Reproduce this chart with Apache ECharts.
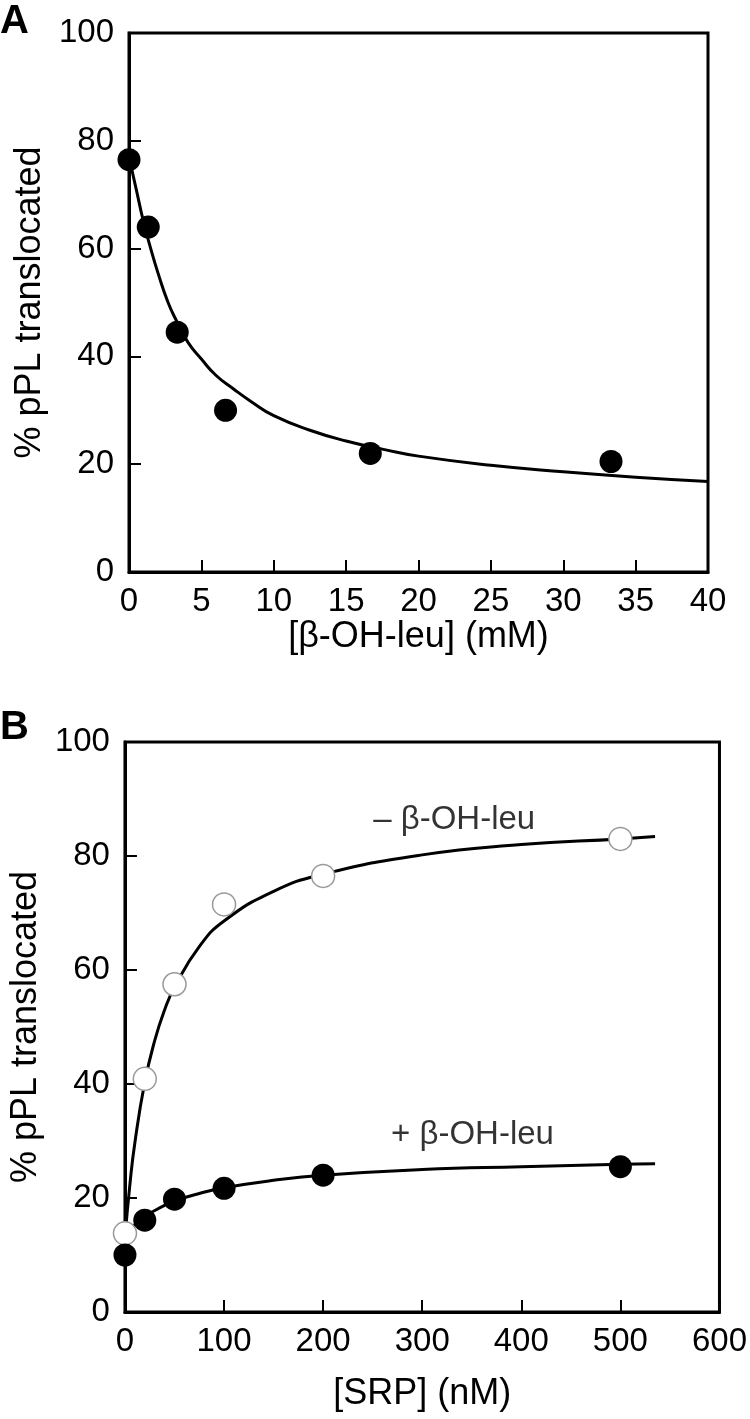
<!DOCTYPE html>
<html>
<head>
<meta charset="utf-8">
<script src="https://cdn.jsdelivr.net/npm/echarts@6/dist/echarts.min.js"></script>
<style>
  html, body { margin: 0; padding: 0; background: #fff; }
  #chart { width: 750px; height: 1419px; }
</style>
</head>
<body>
<div id="chart"></div>
<script>
// panel A: translocation vs beta-OH-leu concentration
const leuConc = [0, 1.33, 3.33, 6.67, 16.67, 33.3]
const leuPct = [76.5, 64, 44.5, 30, 22, 20.5]
const leuFitX = [0, 0.5, 1, 1.5, 2, 2.7, 3.3, 4.1, 5, 6, 7.2, 8.5, 10, 12.5, 15, 17.5, 20, 25, 30, 35, 40]
const leuFitY = [77, 71, 65, 60, 55.5, 50, 46.5, 42.5, 39.5, 36.5, 34, 31.5, 29, 26.3, 24.3, 22.8, 21.5, 19.8, 18.6, 17.6, 16.8]

// panel B: translocation vs SRP, with and without beta-OH-leu
const srpConc = [0, 20, 50, 100, 200, 500]
const minusLeu = [13.8, 40.9, 57.5, 71.5, 76.5, 83]
const plusLeu = [10, 16.1, 19.8, 21.7, 24, 25.5]
const srpFitX = [0, 5, 10, 20, 30, 40, 50, 75, 100, 150, 200, 300, 400, 500, 535]
const minusFitY = [13, 22.4, 29.7, 40.3, 47.6, 53, 57, 64.1, 68.6, 73.8, 76.8, 80.2, 82, 83, 83.4]
const plusFitY = [13.5, 14.5, 15.3, 16.8, 17.8, 18.7, 19.5, 20.8, 21.8, 23.1, 24, 25, 25.5, 25.9, 26]

const FONT = 'Liberation Sans'
const pair = (xs, ys) => xs.map((x, i) => [x, ys[i]])

function xAxisOpt (idx, max, interval, name, gap) {
  return {
    type: 'value', gridIndex: idx, min: 0, max: max, interval: interval,
    name: name, nameLocation: 'middle', nameGap: gap,
    nameTextStyle: { color: '#000', fontSize: 36, fontFamily: FONT },
    axisLine: { show: true, lineStyle: { color: '#000', width: 3 } },
    axisTick: { show: true, inside: true, length: 12, lineStyle: { color: '#000', width: 2 } },
    axisLabel: { color: '#000', fontSize: 33, fontFamily: FONT, margin: 13 },
    splitLine: { show: false }
  }
}

function yAxisOpt (idx) {
  return {
    type: 'value', gridIndex: idx, min: 0, max: 100, interval: 20,
    name: '% pPL translocated', nameLocation: 'middle', nameGap: 80,
    nameTextStyle: { color: '#000', fontSize: 36, fontFamily: FONT },
    axisLine: { show: true, lineStyle: { color: '#000', width: 3 } },
    axisTick: { show: true, inside: true, length: 12, lineStyle: { color: '#000', width: 2 } },
    axisLabel: { color: '#000', fontSize: 33, fontFamily: FONT, margin: 15 },
    splitLine: { show: false }
  }
}

const curve = (xi, yi, data) => ({
  type: 'line', xAxisIndex: xi, yAxisIndex: yi, data: data,
  smooth: true, showSymbol: false, symbol: 'none',
  lineStyle: { color: '#000', width: 3 }, z: 2, silent: true
})

const dots = (xi, yi, data, fill, border, bw, z) => ({
  type: 'scatter', xAxisIndex: xi, yAxisIndex: yi, data: data,
  symbol: 'circle', symbolSize: 23,
  itemStyle: { color: fill, borderColor: border, borderWidth: bw, opacity: 1 },
  z: z, silent: true
})

const tag = (xi, yi, pos, text) => ({
  type: 'scatter', xAxisIndex: xi, yAxisIndex: yi, data: [pos],
  symbolSize: 1, itemStyle: { color: 'rgba(0,0,0,0)' }, silent: true, z: 7,
  label: {
    show: true, position: 'right', distance: 0, formatter: text,
    color: '#000', fontSize: 33, fontFamily: FONT, verticalAlign: 'middle'
  }
})

const chart = echarts.init(document.getElementById('chart'), null, { renderer: 'canvas' })
chart.setOption({
  backgroundColor: '#fff',
  animation: false,
  graphic: [
    { type: 'text', left: 0, top: 2, style: { text: 'A', fontSize: 40, fontWeight: 'bold', fontFamily: FONT, fill: '#000' } },
    { type: 'text', left: 0, top: 708, style: { text: 'B', fontSize: 40, fontWeight: 'bold', fontFamily: FONT, fill: '#000' } }
  ],
  grid: [
    { left: 129, right: 42, top: 33, height: 539, show: true, borderColor: '#000', borderWidth: 3, backgroundColor: 'transparent' },
    { left: 123, right: 29, top: 742, height: 570, show: true, borderColor: '#000', borderWidth: 3, backgroundColor: 'transparent' }
  ],
  xAxis: [
    xAxisOpt(0, 40, 5, '[β-OH-leu] (mM)', 42),
    xAxisOpt(1, 600, 100, '[SRP] (nM)', 64)
  ],
  yAxis: [yAxisOpt(0), yAxisOpt(1)],
  series: [
    curve(0, 0, pair(leuFitX, leuFitY)),
    dots(0, 0, pair(leuConc, leuPct), '#000', '#000', 0, 5),
    curve(1, 1, pair(srpFitX, minusFitY)),
    curve(1, 1, pair(srpFitX, plusFitY)),
    dots(1, 1, pair(srpConc, minusLeu), '#fff', '#999', 1.5, 5),
    dots(1, 1, pair(srpConc, plusLeu), '#000', '#000', 0, 6),
    tag(1, 1, [250, 86.3], '– β-OH-leu'),
    tag(1, 1, [268, 31], '+ β-OH-leu')
  ]
})
</script>
</body>
</html>
